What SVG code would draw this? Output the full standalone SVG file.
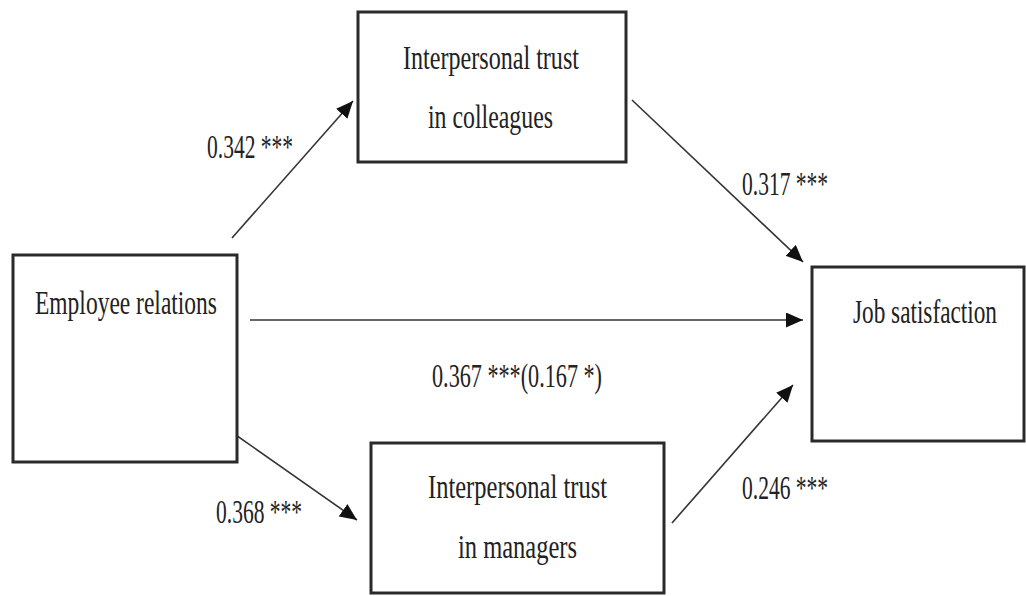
<svg xmlns="http://www.w3.org/2000/svg" width="1026" height="596" viewBox="0 0 1026 596">
<style>
.box{fill:#fff;stroke:#2a2a2a;stroke-width:3}
.lbl{font-family:"Liberation Serif",serif;font-size:34px;fill:#222}
.num{font-family:"Liberation Serif",serif;font-size:34px;fill:#222}
.con{stroke:#333;stroke-width:1.6;fill:none;marker-end:url(#ah)}
</style>
<defs>
<marker id="ah" markerUnits="userSpaceOnUse" markerWidth="18" markerHeight="16" refX="17" refY="7.5" orient="auto">
<path d="M0,0 L17,7.5 L0,15 z" fill="#111"/>
</marker>
</defs>
<rect width="1026" height="596" fill="#fff"/>
<g id="connectors">
<line class="con" x1="232" y1="238" x2="353" y2="101"/>
<line class="con" x1="632" y1="100" x2="803" y2="262"/>
<line class="con" x1="250" y1="320" x2="803" y2="320"/>
<line class="con" x1="233" y1="433" x2="357" y2="520"/>
<line class="con" x1="672" y1="523" x2="793" y2="385"/>
<text class="num" x="207" y="158" textLength="86" lengthAdjust="spacingAndGlyphs">0.342 ***</text>
<text class="num" x="742" y="195" textLength="86" lengthAdjust="spacingAndGlyphs">0.317 ***</text>
<text class="num" x="432" y="387" textLength="170" lengthAdjust="spacingAndGlyphs">0.367 ***(0.167 *)</text>
<text class="num" x="216" y="523" textLength="86" lengthAdjust="spacingAndGlyphs">0.368 ***</text>
<text class="num" x="742" y="499" textLength="86" lengthAdjust="spacingAndGlyphs">0.246 ***</text>
</g>
<g id="node-colleagues">
<rect class="box" x="358" y="12" width="268" height="150"/>
<text class="lbl" x="403" y="69" textLength="176" lengthAdjust="spacingAndGlyphs">Interpersonal trust</text>
<text class="lbl" x="428" y="128" textLength="125" lengthAdjust="spacingAndGlyphs">in colleagues</text>
</g>
<g id="node-employee">
<rect class="box" x="13" y="255" width="224" height="207"/>
<text class="lbl" x="35" y="314" textLength="182" lengthAdjust="spacingAndGlyphs">Employee relations</text>
</g>
<g id="node-job">
<rect class="box" x="812" y="267" width="212" height="174"/>
<text class="lbl" transform="translate(853,323) scale(0.684,1)">Job satisfaction</text>
</g>
<g id="node-managers">
<rect class="box" x="371" y="443" width="293" height="150"/>
<text class="lbl" x="428" y="498" textLength="179" lengthAdjust="spacingAndGlyphs">Interpersonal trust</text>
<text class="lbl" x="458" y="558" textLength="119" lengthAdjust="spacingAndGlyphs">in managers</text>
</g>
</svg>
